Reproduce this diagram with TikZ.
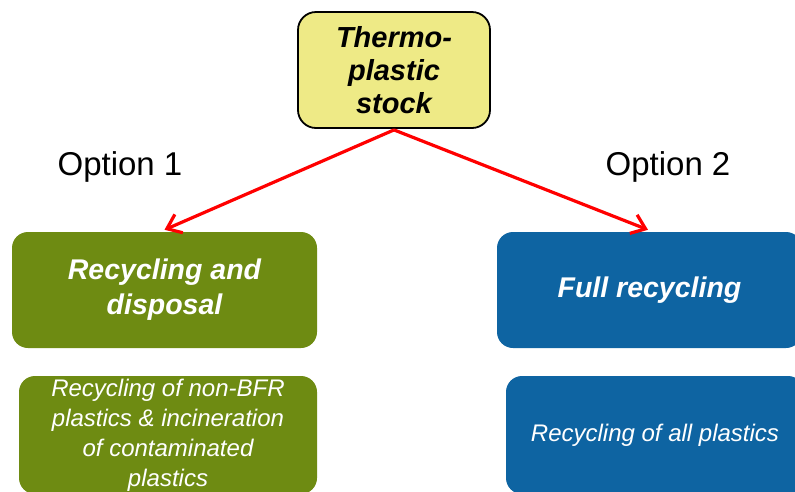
\documentclass[tikz,border=0pt]{standalone}
\usepackage{fontspec}
\setmainfont{Liberation Sans}
\usetikzlibrary{arrows.meta,positioning,calc}

\definecolor{stockyellow}{RGB}{238,234,134}
\definecolor{optgreen}{RGB}{110,139,18}
\definecolor{optblue}{RGB}{14,100,162}

\begin{document}
\begin{tikzpicture}[x=1pt, y=-1pt,
        arr/.style={-{Straight Barb[length=13pt,width=20pt]}, draw=red, line width=3.2pt},
        stockbox/.style={draw=black, line width=1.8pt, fill=stockyellow, rounded corners=18pt,
            minimum width=192pt, minimum height=116pt, align=center, inner sep=0pt,
            font=\fontsize{29}{33}\selectfont\bfseries\itshape},
        headbox/.style={fill=#1, rounded corners=16pt, minimum height=116pt, align=center,
            inner sep=0pt, text=white, font=\fontsize{28.5}{35}\selectfont\bfseries\itshape},
        detailbox/.style={fill=#1, rounded corners=16pt, minimum height=118pt, align=center,
            inner sep=0pt, text=white, font=\fontsize{24}{30}\selectfont\itshape},
        optlabel/.style={font=\fontsize{33}{38}\selectfont, inner sep=0pt}]
        \useasboundingbox (0,0) rectangle (795,491);
        \clip (0,0) rectangle (795,491);

        \node[stockbox]                          (top)     at (394,70)    {Thermo-\\plastic\\stock};

        \node[optlabel, anchor=base]             (opt1)    at (120,175)   {Option 1};
        \node[optlabel, anchor=base]             (opt2)    at (668,175)   {Option 2};

        \node[headbox=optgreen, minimum width=305pt]   (recdisp) at (164.5,290) {Recycling and\\disposal};
        \node[headbox=optblue, minimum width=305pt]    (fullrec) at (649.5,290) {Full recycling};

        \node[detailbox=optgreen, minimum width=298pt] (recdet)  at (168,435)   {Recycling of non-BFR\\plastics \& incineration\\of contaminated\\plastics};
        \node[detailbox=optblue, minimum width=298pt]  (alldet)  at (655,435)   {Recycling of all plastics};

        \draw[arr] ([yshift=-1pt]top.south) -- ([yshift=2pt]recdisp.north);
        \draw[arr] ([yshift=-1pt]top.south) -- ([yshift=2pt,xshift=-1.5pt]fullrec.north);
    \end{tikzpicture}
\end{document}
